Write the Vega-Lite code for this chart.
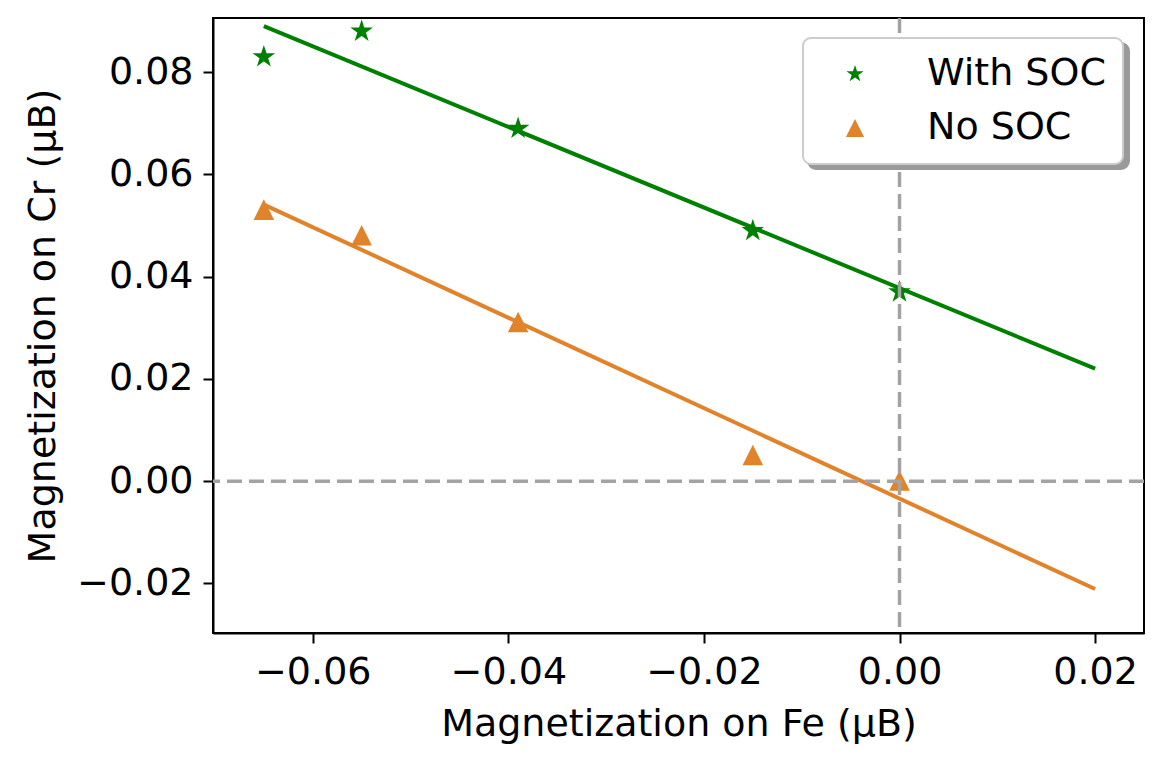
{
  "$schema": "https://vega.github.io/schema/vega-lite/v6.json",
  "width": 931,
  "height": 615,
  "autosize": {"type": "none"},
  "padding": {"left": 213, "top": 18, "right": 19, "bottom": 135},
  "background": "white",
  "config": {
    "font": "DejaVu Sans",
    "view": {"stroke": "black", "strokeWidth": 2},
    "axis": {
      "grid": false,
      "labelFont": "DejaVu Sans",
      "labelFontSize": 38,
      "labelColor": "black",
      "labelPadding": 10,
      "tickColor": "black",
      "tickWidth": 2,
      "tickSize": 10,
      "domainColor": "black",
      "domainWidth": 2,
      "titleFont": "DejaVu Sans",
      "titleFontSize": 38,
      "titleFontWeight": "normal",
      "titleColor": "black"
    },
    "legend": {
      "labelFont": "DejaVu Sans",
      "labelFontSize": 38,
      "labelColor": "black",
      "labelLimit": 500,
      "strokeWidth": 2,
      "cornerRadius": 8,
      "padding": 17
    }
  },
  "datasets": {
    "points": [
      {"fe": -0.065, "cr": 0.083, "series": "With SOC"},
      {"fe": -0.055, "cr": 0.088, "series": "With SOC"},
      {"fe": -0.039, "cr": 0.069, "series": "With SOC"},
      {"fe": -0.015, "cr": 0.049, "series": "With SOC"},
      {"fe": 0.0, "cr": 0.037, "series": "With SOC"},
      {"fe": -0.065, "cr": 0.053, "series": "No SOC"},
      {"fe": -0.055, "cr": 0.048, "series": "No SOC"},
      {"fe": -0.039, "cr": 0.031, "series": "No SOC"},
      {"fe": -0.015, "cr": 0.005, "series": "No SOC"},
      {"fe": 0.0, "cr": 0.0, "series": "No SOC"}
    ],
    "fits": [
      {"fe": -0.065, "cr": 0.089, "series": "With SOC"},
      {"fe": 0.02, "cr": 0.022, "series": "With SOC"},
      {"fe": -0.065, "cr": 0.0541, "series": "No SOC"},
      {"fe": 0.02, "cr": -0.0211, "series": "No SOC"}
    ]
  },
  "layer": [
    {
      "data": {"name": "points"},
      "mark": {"type": "point", "filled": true, "opacity": 1, "size": 300, "strokeWidth": 2},
      "encoding": {
        "x": {
          "field": "fe",
          "type": "quantitative",
          "scale": {"domain": [-0.0702, 0.025], "nice": false, "zero": false},
          "axis": {
            "title": "Magnetization on Fe (μB)",
            "values": [-0.06, -0.04, -0.02, 0, 0.02],
            "format": ".2f",
            "titlePadding": 14
          }
        },
        "y": {
          "field": "cr",
          "type": "quantitative",
          "scale": {"domain": [-0.0297, 0.0906], "nice": false, "zero": false},
          "axis": {
            "title": "Magnetization on Cr (μB)",
            "values": [-0.02, 0, 0.02, 0.04, 0.06, 0.08],
            "format": ".2f",
            "titlePadding": 14
          }
        },
        "color": {
          "field": "series",
          "type": "nominal",
          "scale": {"domain": ["With SOC", "No SOC"], "range": ["#008000", "#e1832a"]},
          "legend": {
            "title": null,
            "orient": "none",
            "legendX": 590,
            "legendY": 20,
            "zindex": 2,
            "fillColor": "white",
            "strokeColor": "#cccccc",
            "symbolSize": 330,
            "symbolOffset": 16,
            "labelOffset": 53,
            "rowPadding": 16,
            "symbolStrokeWidth": 0
          }
        },
        "stroke": {
          "field": "series",
          "type": "nominal",
          "scale": {"domain": ["With SOC", "No SOC"], "range": ["#008000", "#e1832a"]},
          "legend": null
        },
        "shape": {
          "field": "series",
          "type": "nominal",
          "scale": {
            "domain": ["With SOC", "No SOC"],
            "range": [
              "M0,-1L0.2245,-0.309L0.951,-0.309L0.363,0.118L0.588,0.809L0,0.382L-0.588,0.809L-0.363,0.118L-0.951,-0.309L-0.2245,-0.309Z",
              "M0,-1L1,1L-1,1Z"
            ]
          },
          "legend": {
            "title": null,
            "orient": "none",
            "legendX": 590,
            "legendY": 20,
            "zindex": 2,
            "fillColor": "white",
            "strokeColor": "#cccccc",
            "symbolSize": 330,
            "symbolOffset": 16,
            "labelOffset": 53,
            "rowPadding": 16,
            "symbolStrokeWidth": 0
          }
        },
        "opacity": {
          "field": "series",
          "type": "nominal",
          "scale": {"range": [1, 1]},
          "legend": {
            "title": null,
            "orient": "none",
            "legendX": 595,
            "legendY": 25,
            "zindex": 1,
            "fillColor": "#9a9a9a",
            "strokeColor": "#9a9a9a",
            "symbolSize": 330,
            "symbolOffset": 16,
            "labelOffset": 233,
            "rowPadding": 16,
            "symbolOpacity": 0,
            "labelExpr": "''"
          }
        }
      }
    },
    {
      "data": {"name": "fits"},
      "mark": {"type": "line", "strokeWidth": 4},
      "encoding": {
        "x": {"field": "fe", "type": "quantitative"},
        "y": {"field": "cr", "type": "quantitative"},
        "color": {"field": "series", "type": "nominal", "legend": null}
      }
    },
    {
      "data": {"values": [{"v": 0}]},
      "mark": {"type": "rule", "stroke": "#a3a3a3", "strokeWidth": 3.5, "strokeDash": [15, 7]},
      "encoding": {"x": {"field": "v", "type": "quantitative"}}
    },
    {
      "data": {"values": [{"v": 0}]},
      "mark": {"type": "rule", "stroke": "#a3a3a3", "strokeWidth": 3.5, "strokeDash": [15, 7]},
      "encoding": {"y": {"field": "v", "type": "quantitative"}}
    }
  ]
}
